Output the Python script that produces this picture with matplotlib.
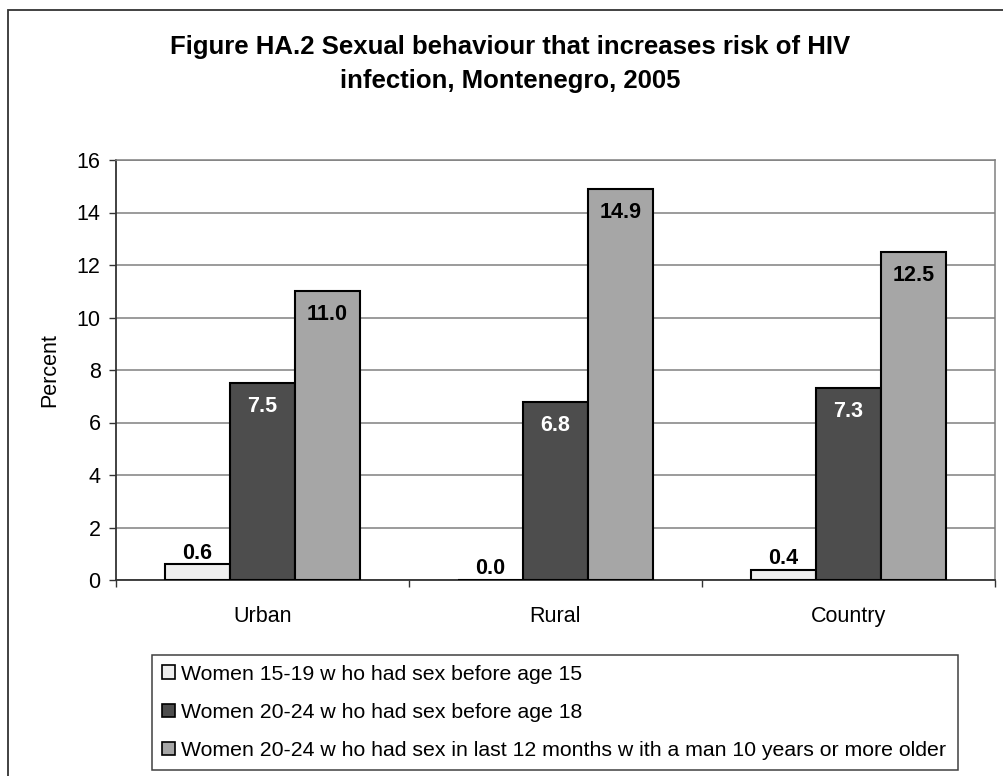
import numpy as np
import matplotlib
matplotlib.use("Agg")
import matplotlib.pyplot as plt
from matplotlib.patches import Rectangle

plt.rcParams["font.family"] = ["Liberation Sans", "DejaVu Sans"]

# ── Data ────────────────────────────────────────────────────────────────────
CATEGORIES = ["Urban", "Rural", "Country"]
SERIES = [
    "Women 15-19 w ho had sex before age 15",
    "Women 20-24 w ho had sex before age 18",
    "Women 20-24 w ho had sex in last 12 months w ith a man 10 years or more older",
]
SEX_BEFORE_15 = [0.6, 0.0, 0.4]
SEX_BEFORE_18 = [7.5, 6.8, 7.3]
OLDER_PARTNER = [11.0, 14.9, 12.5]
Y_TICKS = [0, 2, 4, 6, 8, 10, 12, 14, 16]

TITLE = ("Figure HA.2 Sexual behaviour that increases risk of HIV\n"
         "infection, Montenegro, 2005")

COLORS = ["#efefef", "#4d4d4d", "#a6a6a6"]
LABEL_COLORS = ["black", "white", "black"]
FS = 15.5

W, H = 1004, 776
fig = plt.figure(figsize=(W / 100, H / 100), dpi=100)

# outer chart frame (runs off the right/bottom edges like the source)
fig.patches.append(Rectangle((8 / W, -0.05), 1.1, 1 - 10 / H + 0.05,
                             transform=fig.transFigure, fill=False,
                             edgecolor="#333333", linewidth=1.3))

ax = fig.add_axes([116 / W, 1 - 580 / H, (995 - 116) / W, (580 - 160) / H])

x = np.arange(len(CATEGORIES))
width = 0.222
values = [SEX_BEFORE_15, SEX_BEFORE_18, OLDER_PARTNER]

for i, (vals, col) in enumerate(zip(values, COLORS)):
    bars = ax.bar(x + (i - 1) * width, vals, width, color=col,
                  edgecolor="black", linewidth=1.5, label=SERIES[i], zorder=3)
    for b, v in zip(bars, vals):
        if i == 0:
            off = 8
        else:
            off = -17
        ax.annotate(f"{v:.1f}", (b.get_x() + b.get_width() / 2, v),
                    xytext=(0, off), textcoords="offset points",
                    ha="center", va="center", fontsize=FS, fontweight="bold",
                    color=LABEL_COLORS[i], zorder=4)

ax.set_xlim(-0.5, 2.5)
ax.set_ylim(0, 16)
ax.set_yticks(Y_TICKS)
ax.yaxis.grid(True, color="#808080", linewidth=1.1, zorder=0)
ax.set_axisbelow(True)

# category ticks sit on the group boundaries, labels at the centres
ax.set_xticks([-0.5, 0.5, 1.5, 2.5])
ax.set_xticklabels([])
ax.set_xticks(x, minor=True)
ax.set_xticklabels(CATEGORIES, minor=True, fontsize=FS)
ax.tick_params(axis="x", which="minor", length=0, pad=19)
ax.tick_params(axis="x", which="major", length=5, width=1, color="#333333",
               direction="out")
ax.tick_params(axis="y", length=5, width=1, color="#333333", direction="out",
               labelsize=FS, pad=6)

for side in ["left", "bottom"]:
    ax.spines[side].set_color("#333333")
    ax.spines[side].set_linewidth(1.3)
for side in ["right", "top"]:
    ax.spines[side].set_color("#808080")
    ax.spines[side].set_linewidth(1.1)

ax.set_ylabel("Percent", fontsize=FS, labelpad=12)

fig.text(510 / W, 1 - 64 / H, TITLE, ha="center", va="center",
         fontsize=18.5, fontweight="bold", linespacing=1.55)

leg = fig.legend(loc="upper left",
                 bbox_to_anchor=(152 / W, 1 - 656 / H, (958 - 152) / W, 0.001),
                 mode="expand", ncol=1, fontsize=15.3, frameon=True,
                 fancybox=False, edgecolor="#404040", framealpha=1,
                 handlelength=0.62, handleheight=0.62, handletextpad=0.3,
                 labelspacing=0.9, borderpad=0.45, borderaxespad=0)
leg.get_frame().set_linewidth(1.1)
for h in leg.legend_handles:
    h.set_linewidth(1.2)

fig.savefig("out.png", dpi=100)
